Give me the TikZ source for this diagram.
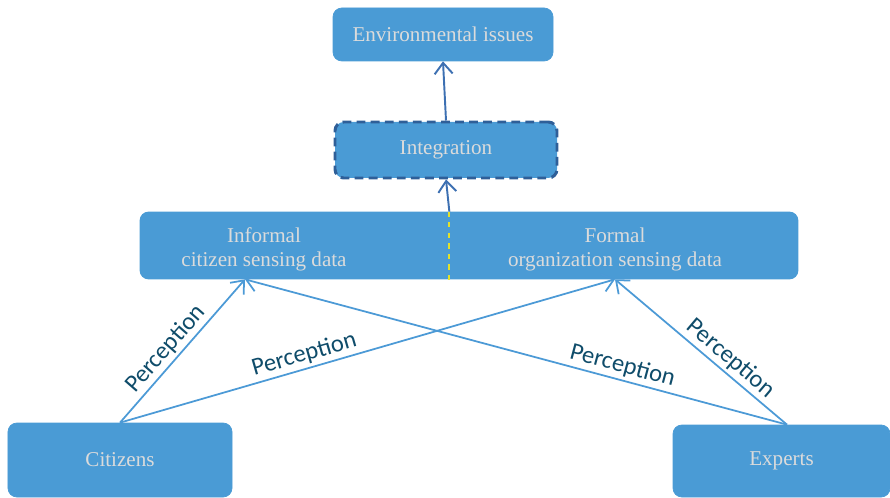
\documentclass[tikz,border=0pt]{standalone}
\usepackage{fontspec}
\setmainfont{Liberation Serif}
\newfontfamily\perceptfont{Carlito}
\usetikzlibrary{arrows.meta,backgrounds}
\definecolor{boxblue}{HTML}{4A9BD5}
\definecolor{integborder}{HTML}{2F5F98}
\definecolor{uparrow}{HTML}{3D70B2}
\definecolor{perceptline}{HTML}{4C9AD6}
\definecolor{percepttext}{HTML}{0F4C6A}
\definecolor{splitline}{HTML}{E2E22A}
\begin{document}
\begin{tikzpicture}[
  box/.style={rectangle, rounded corners=5pt, fill=boxblue, draw=boxblue, text=white!86!black, font=\fontsize{12}{14.5}\selectfont},
  panel/.style={rectangle, inner sep=0pt},
  boxlabel/.style={text=white!86!black, align=center, font=\fontsize{12}{13.8}\selectfont},
  uplink/.style={draw=uparrow, line width=1.1pt, -{Straight Barb[length=2.2mm,width=3.6mm]}},
  seen/.style={draw=perceptline, line width=1pt, -{Straight Barb[length=2.2mm,width=3.6mm]}},
  seenlabel/.style={text=percepttext, font=\perceptfont\fontsize{14}{16}\selectfont, sloped, above, inner sep=1.5pt}
]
\useasboundingbox (0,0) rectangle (17.8,-9.96);

\node[box, minimum width=4.4cm, minimum height=1.06cm] (env) at (8.86,-0.69) {Environmental issues};
\node[box, minimum width=4.44cm, minimum height=1.12cm, draw=integborder, line width=1.7pt, dash pattern=on 5pt off 3pt] (integ) at (8.92,-3.0) {Integration};

\node[panel, minimum width=6.18cm, minimum height=1.34cm,
  label={[boxlabel, xshift=-0.61cm, yshift=-0.07cm]center:Informal\\citizen sensing data}] (inf) at (5.89,-4.91) {};
\node[panel, minimum width=6.98cm, minimum height=1.34cm,
  label={[boxlabel, xshift=-0.17cm, yshift=-0.08cm]center:Formal\\organization sensing data}] (form) at (12.47,-4.91) {};
\begin{scope}[on background layer]
\fill[boxblue, rounded corners=5pt] (inf.north west) rectangle (form.south east);
\end{scope}
\draw[splitline, dashed, line width=1pt] (inf.north east) -- ([yshift=-0.06cm]inf.south east);

\node[box, minimum width=4.48cm, minimum height=1.48cm] (cit) at (2.4,-9.2) {Citizens};
\node[box, minimum width=4.34cm, minimum height=1.44cm] (exp) at (15.63,-9.22) {Experts};

% upward flow
\draw[uplink] (inf.north east) -- (integ.south);
\draw[uplink] (integ.north) -- (env.south);

% perception links
\draw[seen] (cit.north) -- node[seenlabel, pos=0.45] {Perception} ([xshift=-0.99cm]inf.south);
\draw[seen] (cit.north) -- node[seenlabel, pos=0.38] {Perception} ([xshift=-0.17cm]form.south);
\draw[seen] ([xshift=0.11cm]exp.north) -- node[seenlabel, pos=0.31] {Perception} ([xshift=-0.99cm]inf.south);
\draw[seen] ([xshift=0.11cm]exp.north) -- node[seenlabel, pos=0.38] {Perception} ([xshift=-0.17cm]form.south);
\end{tikzpicture}
\end{document}
